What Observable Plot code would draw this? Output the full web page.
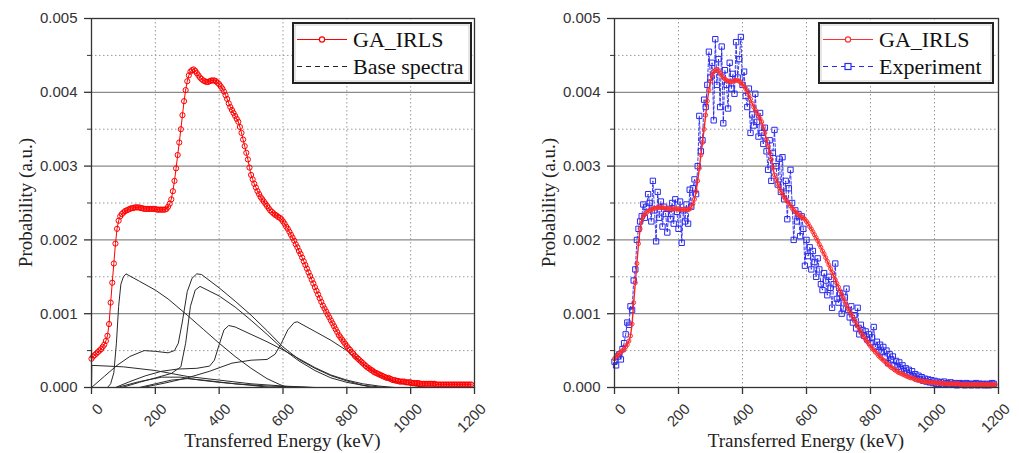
<!DOCTYPE html>
<html><head><meta charset="utf-8">
<script src="https://cdn.jsdelivr.net/npm/d3@7"></script>
<script src="https://cdn.jsdelivr.net/npm/@observablehq/plot@0.6"></script>
<style>
body{margin:0;background:#fff;}
#wrap{position:relative;width:1019px;height:453px;overflow:hidden;}
#wrap > div{position:absolute;top:0;}
.serif{font-family:"Liberation Serif","Times New Roman","DejaVu Serif",serif !important;}
</style></head><body><div id="wrap"><div id="left" style="left:0"></div><div id="right" style="left:505px"></div></div>
<script>
// ---- data ----
const fitStart = 0, fitStep = 5; // keV sampling of the GA_IRLS curve
const fitValues = [
0.00039,0.00042,0.00044,0.00046,0.00048,0.00050,0.00052,0.00055,0.00058,0.00063,
0.00070,0.00086,0.00115,0.00142,0.00168,0.00195,0.00215,0.00226,0.00232,0.00235,
0.00237,0.00239,0.00240,0.00241,0.00242,0.00243,0.00243,0.00244,0.00244,0.00244,
0.00244,0.00243,0.00243,0.00242,0.00242,0.00242,0.00242,0.00242,0.00242,0.00242,
0.00242,0.00241,0.00241,0.00241,0.00241,0.00241,0.00241,0.00242,0.00245,0.00249,
0.00255,0.00266,0.00280,0.00297,0.00315,0.00332,0.00350,0.00369,0.00388,0.00403,
0.00415,0.00423,0.00428,0.00430,0.00431,0.00429,0.00426,0.00423,0.00420,0.00418,
0.00416,0.00415,0.00414,0.00414,0.00415,0.00416,0.00416,0.00416,0.00415,0.00413,
0.00411,0.00408,0.00405,0.00401,0.00396,0.00391,0.00385,0.00380,0.00376,0.00372,
0.00368,0.00364,0.00360,0.00353,0.00345,0.00336,0.00327,0.00318,0.00309,0.00298,
0.00288,0.00282,0.00276,0.00271,0.00266,0.00262,0.00258,0.00255,0.00252,0.00249,
0.00246,0.00243,0.00240,0.00238,0.00236,0.00234,0.00233,0.00231,0.00230,0.00228,
0.00225,0.00222,0.00218,0.00215,0.00211,0.00207,0.00203,0.00199,0.00194,0.00190,
0.00185,0.00181,0.00176,0.00171,0.00166,0.00161,0.00156,0.00151,0.00146,0.00141,
0.00136,0.00131,0.00126,0.00121,0.00116,0.00111,0.00107,0.00103,0.00099,0.00095,
0.00091,0.00087,0.00083,0.00079,0.00075,0.00071,0.00068,0.00065,0.00062,0.00059,
0.00056,0.00053,0.00051,0.00048,0.00046,0.00043,0.00041,0.00039,0.00037,0.00035,
0.00033,0.00031,0.00029,0.00027,0.00026,0.00024,0.00023,0.00021,0.00020,0.00019,
0.00018,0.00017,0.00016,0.00015,0.00014,0.00013,0.00013,0.00012,0.00011,0.00010,
0.00010,0.00009,0.00009,0.00008,0.00008,0.00008,0.00008,0.00007,0.00007,0.00007,
0.00007,0.00006,0.00006,0.00006,0.00006,0.00006,0.00005,0.00005,0.00005,0.00005,
0.00005,0.00005,0.00005,0.00005,0.00005,0.00005,0.00004,0.00004,0.00004,0.00004,
0.00004,0.00004,0.00004,0.00004,0.00004,0.00004,0.00004,0.00004,0.00004,0.00004,
0.00004,0.00004,0.00004,0.00004,0.00004,0.00004,0.00004,0.00004,0.00004];

const expStart = 0, expStep = 5; // keV sampling of the experimental spectrum
const expValues = [
0.00035,0.00030,0.00042,0.00045,0.00038,0.00052,0.00060,0.00072,0.00088,0.00085,
0.00110,0.00105,0.00145,0.00160,0.00200,0.00215,0.00225,0.00232,0.00248,0.00230,
0.00245,0.00262,0.00250,0.00225,0.00280,0.00240,0.00198,0.00265,0.00230,0.00252,
0.00218,0.00245,0.00235,0.00210,0.00242,0.00228,0.00250,0.00222,0.00255,0.00238,
0.00215,0.00252,0.00196,0.00240,0.00225,0.00248,0.00222,0.00268,0.00245,0.00270,
0.00282,0.00262,0.00300,0.00368,0.00320,0.00335,0.00390,0.00380,0.00410,0.00455,
0.00420,0.00440,0.00362,0.00472,0.00410,0.00445,0.00380,0.00462,0.00358,0.00430,
0.00410,0.00378,0.00440,0.00405,0.00425,0.00398,0.00468,0.00420,0.00445,0.00475,
0.00410,0.00428,0.00395,0.00380,0.00405,0.00345,0.00370,0.00355,0.00398,0.00360,
0.00340,0.00372,0.00345,0.00330,0.00352,0.00320,0.00295,0.00335,0.00280,0.00318,
0.00349,0.00300,0.00275,0.00310,0.00265,0.00312,0.00255,0.00280,0.00228,0.00270,
0.00295,0.00250,0.00200,0.00240,0.00225,0.00235,0.00205,0.00232,0.00215,0.00165,
0.00200,0.00178,0.00190,0.00160,0.00185,0.00170,0.00150,0.00175,0.00160,0.00140,
0.00132,0.00155,0.00145,0.00125,0.00150,0.00135,0.00108,0.00140,0.00168,0.00120,
0.00115,0.00128,0.00100,0.00107,0.00122,0.00134,0.00105,0.00095,0.00110,0.00088,
0.00098,0.00080,0.00108,0.00072,0.00085,0.00078,0.00070,0.00076,0.00065,0.00072,
0.00060,0.00068,0.00082,0.00055,0.00062,0.00050,0.00058,0.00048,0.00055,0.00042,
0.00050,0.00033,0.00045,0.00038,0.00042,0.00030,0.00036,0.00028,0.00034,0.00025,
0.00030,0.00022,0.00026,0.00020,0.00024,0.00017,0.00022,0.00015,0.00018,0.00012,
0.00016,0.00011,0.00014,0.00009,0.00012,0.00008,0.00011,0.00007,0.00010,0.00006,
0.00009,0.00005,0.00008,0.00005,0.00007,0.00004,0.00008,0.00005,0.00006,0.00004,
0.00007,0.00005,0.00004,0.00006,0.00003,0.00005,0.00006,0.00004,0.00005,0.00003,
0.00006,0.00004,0.00005,0.00003,0.00005,0.00004,0.00006,0.00003,0.00005,0.00004,
0.00005,0.00003,0.00004,0.00005,0.00003,0.00004,0.00006,0.00005];

// base spectra: [keV, probability]
const base1 = [[0,0],[1,0.0003],[100,0.00028],[200,0.00023],[300,0.00015],[400,0.0001],[500,0.00005],[600,0.00002],[700,0]];
const base2 = [[50,0],[60,0.00005],[70,0.0002],[78,0.0006],[85,0.0011],[92,0.0014],[100,0.0015],[108,0.00154],[150,0.00144],[200,0.00132],[240,0.0012],[300,0.00098],[350,0.00079],[400,0.0006],[450,0.00042],[500,0.00026],[550,0.00012],[590,0.00004],[615,0]];
const base3 = [[0,0],[40,0.00015],[80,0.0003],[120,0.00042],[165,0.0005],[200,0.00049],[240,0.00047],[260,0.0005],[272,0.0006],[285,0.0009],[300,0.0013],[315,0.00148],[330,0.00154],[345,0.00153],[400,0.00135],[450,0.00117],[500,0.00098],[550,0.00077],[600,0.00055],[650,0.00038],[700,0.00026],[750,0.00016],[800,0.00009],[850,0.00003],[880,0]];
const base4 = [[95,0],[150,0.00007],[200,0.00013],[250,0.00019],[280,0.00028],[295,0.0006],[310,0.0011],[325,0.00132],[340,0.00137],[400,0.00124],[450,0.00109],[500,0.00091],[550,0.00072],[600,0.00052],[650,0.00036],[700,0.00023],[750,0.00013],[800,0.00007],[850,0.00003],[920,0]];
const base5 = [[75,0],[120,0.00008],[170,0.00016],[220,0.00022],[270,0.00025],[330,0.00026],[370,0.00029],[385,0.00037],[400,0.00058],[415,0.00078],[430,0.00084],[450,0.00082],[500,0.00072],[550,0.00062],[600,0.00051],[650,0.00039],[700,0.00027],[750,0.00017],[800,0.0001],[850,0.00005],[900,0.00002],[950,0]];
const base6 = [[160,0],[230,0.00006],[300,0.00013],[370,0.00022],[440,0.00033],[500,0.00037],[550,0.00038],[575,0.00045],[595,0.0006],[615,0.00078],[635,0.00088],[645,0.00089],[700,0.00076],[750,0.00064],[800,0.0005],[850,0.00032],[900,0.00017],[950,0.00008],[1000,0.00003],[1050,0]];
const base7 = [[80,0],[150,0.00008],[220,0.00014],[280,0.00014],[340,0.0001],[400,0.00007],[500,0.00003],[560,0]];
const base8 = [[150,0],[200,0.00005],[250,0.0001],[300,0.00012],[350,0.0001],[450,0.00005],[550,0.00002],[690,0]];

const yTicks = [0, 0.001, 0.002, 0.003, 0.004, 0.005];
const yMinor = [0.0005, 0.0015, 0.0025, 0.0035, 0.0045];
const yMajorGrid = [0.001, 0.002, 0.003, 0.004];
const xTicks = [0, 200, 400, 600, 800, 1000, 1200];
const xGrid = [200, 400, 600, 800, 1000];
const xTitle = "Transferred Energy (keV)";
const yTitle = "Probability (a.u.)";

// ---- tables ----
const fit = fitValues.map((v, i) => ({e: fitStart + i * fitStep, p: v}));
const exp = expValues.map((v, i) => ({e: expStart + i * expStep, p: v}));
const bases = [base1, base2, base3, base4, base5, base6, base7, base8]
  .flatMap((s, k) => s.map(([e, p]) => ({e, p, k})));

const SANS = '"Liberation Sans",Arial,sans-serif';
const H = 453, MT = 18, MB = 66;

function frameMarks() {
  return [
    Plot.gridY(yMinor, {stroke: "#9a9a9a", strokeOpacity: 1, strokeWidth: 1, strokeDasharray: "1.5,2.5"}),
    Plot.gridX(xGrid, {stroke: "#9a9a9a", strokeOpacity: 1, strokeWidth: 1, strokeDasharray: "1.5,2.5"}),
    Plot.gridY(yMajorGrid, {stroke: "#8a8a8a", strokeOpacity: 1, strokeWidth: 1.3})
  ];
}
function axisMarks() {
  return [
    Plot.frame({stroke: "#333", strokeWidth: 1.3}),
    Plot.axisY(yTicks, {tickSize: 7, tickPadding: 7, tickFormat: d => d.toFixed(3), fontSize: 15, fill: "#333", stroke: "#333", strokeWidth: 1.3}),
    Plot.axisY(yMinor, {tickSize: 4, tickFormat: () => "", stroke: "#333"}),
    Plot.axisX(xTicks, {tickSize: 7, tickFormat: () => "", stroke: "#333", strokeWidth: 1.3}),
    Plot.text(xTicks, {x: d => d, frameAnchor: "bottom", text: d => String(d), rotate: -45, textAnchor: "end", lineAnchor: "middle", dx: 9, dy: 19, fontSize: 15, fill: "#333"})
  ];
}
function makePlot(width, marginLeft, marginRight, dataMarks) {
  const svg = Plot.plot({
    width, height: H, marginLeft, marginRight, marginTop: MT, marginBottom: MB,
    x: {domain: [0, 1200], label: null},
    y: {domain: [0, 0.005], label: null},
    style: {fontSize: "15px", color: "#333", background: "white", overflow: "visible"},
    marks: [...frameMarks(), ...dataMarks, ...axisMarks()]
  });
  svg.style.fontFamily = SANS;
  const cx = marginLeft + (width - marginLeft - marginRight) / 2;
  const cy = MT + (H - MT - MB) / 2;
  const g = d3.select(svg).append("g").attr("class", "serif").attr("fill", "#222");
  g.append("text").attr("class", "serif").attr("text-anchor", "middle")
    .attr("x", cx).attr("y", 447).style("font-size", "19px").text(xTitle);
  g.append("text").attr("class", "serif").attr("text-anchor", "middle")
    .attr("transform", `translate(${marginLeft - 59},${cy}) rotate(-90)`).style("font-size", "19px").text(yTitle);
  return svg;
}

const leftPlot = makePlot(505, 91, 31, [
  Plot.line(bases, {x: "e", y: "p", z: "k", stroke: "#2a2a2a", strokeWidth: 1}),
  Plot.line(fit, {x: "e", y: "p", stroke: "#ff0000", strokeWidth: 1}),
  Plot.dot(fit, {x: "e", y: "p", r: 2.6, stroke: "#ff0000", strokeWidth: 1, fill: "none"})
]);
const rightPlot = makePlot(514, 109, 21, [
  Plot.line(exp, {x: "e", y: "p", stroke: "#2222ee", strokeWidth: 0.9, strokeDasharray: "3,2"}),
  Plot.dot(exp, {x: "e", y: "p", symbol: "square", r: 3, stroke: "#2a2aee", strokeWidth: 1, fill: "none"}),
  Plot.line(fit, {x: "e", y: "p", stroke: "#ff2020", strokeWidth: 1.4}),
  Plot.dot(fit, {x: "e", y: "p", r: 2, stroke: "#ff3030", strokeWidth: 1, fill: "none"})
]);
document.getElementById("left").appendChild(leftPlot);
document.getElementById("right").appendChild(rightPlot);

function legend(svg, x0, w, entries) {
  const g = d3.select(svg).append("g");
  g.append("rect").attr("x", x0).attr("y", 23).attr("width", w).attr("height", 60)
    .attr("fill", "white").attr("stroke", "#222").attr("stroke-width", 2);
  g.append("rect").attr("x", x0 + 2).attr("y", 25).attr("width", w - 4).attr("height", 56)
    .attr("fill", "none").attr("stroke", "#aaa").attr("stroke-width", 0.6);
  entries.forEach((en, i) => {
    const y = 39.5 + i * 27;
    g.append("line").attr("x1", x0 + 4).attr("x2", x0 + 54).attr("y1", y).attr("y2", y)
      .attr("stroke", en.color).attr("stroke-width", 1.2).attr("stroke-dasharray", en.dash || null);
    if (en.symbol === "circle") g.append("circle").attr("cx", x0 + 29).attr("cy", y).attr("r", 2.6)
      .attr("fill", "white").attr("stroke", en.color).attr("stroke-width", 1.2);
    if (en.symbol === "square") g.append("rect").attr("x", x0 + 26).attr("y", y - 3).attr("width", 6).attr("height", 6)
      .attr("fill", "white").attr("stroke", en.color).attr("stroke-width", 1.2);
    g.append("text").attr("x", x0 + 60).attr("y", y + 7).text(en.label)
      .attr("class", "serif").attr("text-anchor", "start")
      .style("font-size", "22px").attr("fill", "#111");
  });
}
legend(leftPlot, 293, 178, [
  {label: "GA_IRLS", color: "#ff0000", symbol: "circle"},
  {label: "Base spectra", color: "#222", dash: "5,4"}
]);
legend(rightPlot, 314, 174, [
  {label: "GA_IRLS", color: "#ff3030", symbol: "circle"},
  {label: "Experiment", color: "#2a2aee", symbol: "square", dash: "5,4"}
]);
</script></body></html>
